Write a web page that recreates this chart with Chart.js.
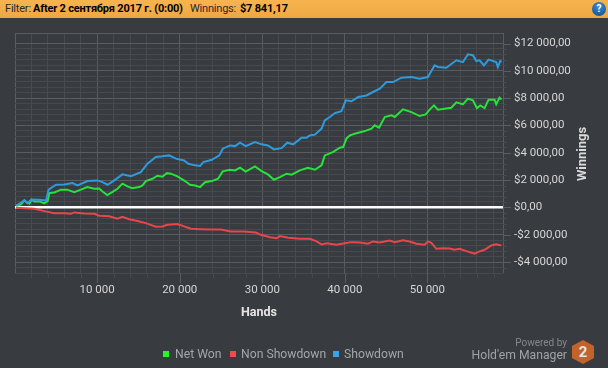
<!DOCTYPE html>
<html>
<head>
<meta charset="utf-8">
<script src="https://cdn.jsdelivr.net/npm/chart.js@4"></script>
<style>
  html, body { margin: 0; padding: 0; background: #383b3f; }
  body { width: 608px; height: 368px; position: relative; overflow: hidden; font-family: Roboto, sans-serif; }
  canvas { position: absolute; left: 0; top: 0; }
  #filterBar { position: absolute; left: 0; top: 0; width: 608px; height: 18px; background: linear-gradient(#f6b44f, #eea843); color: #2a2a2a; font-size: 11px; letter-spacing: -0.2px; line-height: 18px; white-space: nowrap; }
  #filterBar span { position: absolute; top: 0; }
  #filterBar b { color: #000; }
  #help { position: absolute; left: 592px; top: 2px; width: 14px; height: 14px; border-radius: 7px; background: radial-gradient(circle at 50% 30%, #3d8fd0, #0d4a8c); color: #fff; font: bold 10px/14px Roboto, sans-serif; text-align: center; }
  #legend { position: absolute; left: 163px; top: 346px; height: 16px; color: #a4a7aa; font-size: 12.2px; line-height: 16px; white-space: nowrap; }
  #legend span { position: absolute; top: 0; }
  #legend i { position: absolute; top: 5px; width: 6px; height: 6px; }
  #powered { position: absolute; right: 41px; top: 337px; color: #85888c; font-size: 10px; line-height: 12px; }
  #brand { position: absolute; right: 41px; top: 347px; color: #a0a3a6; font-size: 12.2px; line-height: 16px; }
  #badge { position: absolute; left: 572px; top: 340px; width: 22px; height: 24px; background: #c4622c; clip-path: polygon(50% 0, 100% 25%, 100% 75%, 50% 100%, 0 75%, 0 25%); color: #e8e4df; font: bold 15px/24px Roboto, sans-serif; text-align: center; }
</style>
</head>
<body>
<canvas id="graph" width="608" height="368"></canvas>
<div id="filterBar">
  <span style="left:5px">Filter:</span>
  <span style="left:33px"><b>After 2 сентября 2017 г. (0:00)</b></span>
  <span style="left:190px">Winnings:</span>
  <span style="left:240px"><b>$7 841,17</b></span>
</div>
<div id="help">?</div>
<div id="legend"></div>
<div id="powered">Powered by</div>
<div id="brand">Hold'em Manager</div>
<div id="badge">2</div>
<script>
// values
const netWonHands = [180, 790, 1180, 1510, 1790, 2070, 2390, 3000, 3600, 4000, 4210, 4810, 5620, 6380, 7230, 8040, 8800, 9650, 10250, 10650, 11220, 11820, 12460, 13070, 13670, 14240, 15090, 15490, 15900, 16700, 17300, 17900, 18440, 18920, 19720, 20650, 21250, 21860, 22460, 23070, 23880, 24640, 25210, 26090, 26700, 27300, 27990, 29110, 29920, 30680, 31410, 32130, 32940, 33550, 34550, 35520, 36370, 37180, 37570, 38540, 39390, 39790, 40200, 40600, 41200, 42410, 43220, 43620, 44140, 44830, 45640, 46040, 47040, 48060, 49060, 49790, 50270, 50790, 51270, 52890, 53500, 54300, 54900, 55510, 55990, 56400, 56920, 57400, 58130, 58330, 58730, 58970];
const netWonValues = [125, 220, 535, 365, 270, 565, 440, 440, 295, 460, 1050, 1100, 1300, 1300, 1120, 1300, 1490, 1370, 1390, 1170, 900, 1120, 1370, 1740, 1540, 1410, 1490, 1610, 1930, 2100, 2320, 2250, 2510, 2470, 2270, 1930, 1660, 1610, 1490, 1850, 1930, 2100, 2640, 2760, 2710, 2910, 2620, 3000, 2660, 2420, 2030, 2220, 2470, 2400, 2710, 2910, 2760, 3080, 3810, 4050, 4370, 4420, 5050, 5270, 5400, 5590, 5770, 6010, 5840, 6620, 6740, 6620, 7180, 6980, 6690, 6810, 7160, 7470, 7160, 7300, 7690, 7550, 7960, 7840, 7270, 7470, 7270, 7890, 7890, 7550, 8040, 7890];

const nonShowdownHands = [180, 2390, 3600, 4810, 6020, 6830, 7230, 8440, 9650, 10250, 11460, 12460, 13070, 13880, 14880, 15900, 17110, 17900, 18510, 19720, 20530, 21340, 22550, 23760, 24970, 26180, 27780, 29200, 29720, 30930, 31740, 32130, 33140, 34550, 35760, 36570, 37180, 37780, 38990, 39790, 40800, 41810, 42810, 43410, 44230, 45430, 46040, 47040, 47850, 48660, 49660, 50060, 50470, 51080, 51880, 52690, 53290, 53900, 54710, 55710, 56320, 56920, 57730, 58330, 58940];
const nonShowdownValues = [-20, -95, -270, -420, -420, -460, -365, -440, -460, -610, -640, -830, -680, -860, -1000, -1150, -1410, -1390, -1270, -1220, -1390, -1560, -1590, -1610, -1610, -1760, -1760, -1830, -1980, -2180, -2250, -2100, -2220, -2290, -2290, -2490, -2710, -2620, -2730, -2640, -2540, -2560, -2660, -2490, -2560, -2420, -2540, -2400, -2490, -2660, -2730, -2490, -2590, -3030, -2980, -3000, -3100, -3030, -3200, -3390, -3220, -3100, -2780, -2690, -2780];

const showdownHands = [180, 1180, 1550, 2030, 3000, 3810, 4120, 5020, 6020, 7020, 7630, 8840, 10050, 10650, 11260, 12070, 13070, 14080, 15290, 16090, 17110, 17910, 18710, 19530, 20530, 21050, 21860, 22460, 22860, 23880, 24800, 25210, 26090, 26700, 27300, 27990, 29110, 29920, 30680, 31410, 32340, 33020, 33740, 34760, 35360, 35760, 36370, 37180, 37570, 38180, 38790, 39590, 40110, 40800, 41600, 42620, 43410, 44230, 45030, 45830, 46850, 48060, 49060, 50060, 50870, 51270, 52290, 53500, 54300, 54900, 55510, 55920, 56320, 56840, 57400, 58330, 58530, 58820, 58970];
const showdownValues = [125, 510, 315, 585, 565, 510, 1300, 1660, 1680, 1780, 1610, 1930, 1980, 1850, 1660, 1980, 2420, 2290, 2590, 3200, 3690, 3740, 3810, 3570, 3440, 3200, 3080, 3030, 3320, 3490, 3810, 4300, 4540, 4490, 4740, 4490, 4780, 4620, 4540, 4250, 4340, 4740, 4620, 5110, 5110, 5270, 5330, 5770, 6370, 6620, 6910, 7050, 7840, 7770, 8080, 8200, 8450, 8700, 9180, 9180, 9500, 9550, 9430, 9550, 10400, 10280, 10230, 10770, 10640, 11210, 11140, 10720, 10770, 10400, 10820, 10640, 10280, 10720, 10640];

const seriesNames = ['Net Won', 'Non Showdown', 'Showdown'];
const lineColors = ['#26e23a', '#e8464b', '#2f9bdc'];
const boxColors = ['#2cf42c', '#f04a4a', '#36a3ea'];
const legendTextX = [12, 78, 181];
const legendBoxX = [0, 67, 170];

const handsAxis = { min: 50, max: 59150, step: 2000, major: 10000 };
const moneyAxis = { min: -4800, max: 12770, step: 400, major: 2000 };

const majorGrid = '#595c60';
const minorGrid = '#46494d';

function spaced(n) {
    return String(Math.abs(n)).replace(/\B(?=(\d{3})+$)/g, ' ');
}

function isStep(value, step) {
    return value % step === 0;
}

// chart.js bends the step when min and max are both set, so list the ticks ourselves
function stepTicks(scale, axis) {
    const list = [{ value: axis.min }];
    const first = Math.ceil(axis.min / axis.step) * axis.step;
    for (let v = first; v < axis.max; v += axis.step) {
        if (v > axis.min) list.push({ value: v });
    }
    list.push({ value: axis.max });
    scale.ticks = list;
}

// the right axis title reads upwards and the ticks have two lengths, chart.js can't do either
const extras = {
    id: 'extras',
    afterDraw(chart) {
        const ctx = chart.ctx;
        const area = chart.chartArea;
        ctx.save();
        ctx.lineWidth = 1;
        chart.scales.x.ticks.forEach(t => {
            if (!isStep(t.value, handsAxis.step)) return;
            const major = isStep(t.value, handsAxis.major);
            const px = Math.round(chart.scales.x.getPixelForValue(t.value)) + 0.5;
            ctx.strokeStyle = major ? majorGrid : minorGrid;
            ctx.beginPath();
            ctx.moveTo(px, area.bottom);
            ctx.lineTo(px, area.bottom + (major ? 10 : 5));
            ctx.stroke();
        });
        chart.scales.y.ticks.forEach(t => {
            if (!isStep(t.value, moneyAxis.step) || t.value === moneyAxis.min || t.value > 12000) return;
            const major = isStep(t.value, moneyAxis.major);
            const py = Math.round(chart.scales.y.getPixelForValue(t.value)) + 0.5;
            ctx.strokeStyle = major ? majorGrid : minorGrid;
            ctx.beginPath();
            ctx.moveTo(area.right, py);
            ctx.lineTo(area.right + (major ? 8 : 4), py);
            ctx.stroke();
        });
        ctx.translate(583, 154);
        ctx.rotate(-Math.PI / 2);
        ctx.fillStyle = '#dcdcdc';
        ctx.font = 'bold 13px Roboto';
        ctx.textAlign = 'center';
        ctx.textBaseline = 'middle';
        ctx.fillText('Winnings', 0, 0);
        ctx.restore();
    }
};

function makeSeries(i, hands, values) {
    return {
        label: seriesNames[i],
        data: hands.map((h, n) => ({ x: h, y: values[n] })),
        borderColor: lineColors[i],
        borderWidth: 2,
        pointRadius: 0,
        tension: 0
    };
}

new Chart(document.getElementById('graph'), {
    type: 'line',
    data: {
        datasets: [
            makeSeries(2, showdownHands, showdownValues),
            makeSeries(0, netWonHands, netWonValues),
            makeSeries(1, nonShowdownHands, nonShowdownValues)
        ]
    },
    options: {
        responsive: false,
        animation: false,
        layout: { padding: { top: 33, left: 15, bottom: 48 } },
        plugins: { legend: { display: false }, tooltip: { enabled: false } },
        scales: {
            x: {
                type: 'linear',
                min: handsAxis.min,
                max: handsAxis.max,
                afterBuildTicks(scale) { stepTicks(scale, handsAxis); },
                afterFit(scale) { scale.height = 47; },
                border: { display: false },
                grid: {
                    drawTicks: false,
                    lineWidth: 1,
                    color: ctx => isStep(ctx.tick.value, handsAxis.major) || !isStep(ctx.tick.value, handsAxis.step) ? majorGrid : minorGrid
                },
                ticks: {
                    autoSkip: false,
                    maxRotation: 0,
                    padding: 10,
                    color: '#d6d6d6',
                    font: { family: 'Roboto', size: 11.5 },
                    callback: v => isStep(v, handsAxis.major) ? spaced(v) : ''
                },
                title: {
                    display: true,
                    text: 'Hands',
                    color: '#e6e6e6',
                    font: { family: 'Roboto', size: 12.5, weight: 'bold' },
                    padding: { top: 8, bottom: 0 }
                }
            },
            y: {
                position: 'right',
                min: moneyAxis.min,
                max: moneyAxis.max,
                afterBuildTicks(scale) { stepTicks(scale, moneyAxis); },
                afterFit(scale) { scale.width = 105; },
                border: { display: false },
                grid: {
                    drawTicks: false,
                    lineWidth: ctx => ctx.tick.value === 0 ? 2.5 : 1,
                    color: ctx => {
                        const v = ctx.tick.value;
                        if (v === 0) return '#ffffff';
                        if (v > 12000 && v < moneyAxis.max) return 'rgba(0,0,0,0)';
                        return isStep(v, moneyAxis.major) || !isStep(v, moneyAxis.step) ? majorGrid : minorGrid;
                    }
                },
                ticks: {
                    autoSkip: false,
                    padding: 11,
                    color: '#d6d6d6',
                    font: { family: 'Roboto', size: 11.5 },
                    callback: v => isStep(v, moneyAxis.major) ? (v < 0 ? '-' : '') + '$' + spaced(v) + ',00' : ''
                }
            }
        }
    },
    plugins: [extras]
});

// legend sits off centre in the original, so it's plain html
const legend = document.getElementById('legend');
seriesNames.forEach((name, i) => {
    legend.innerHTML += `<i style="left:${legendBoxX[i]}px;background:${boxColors[i]}"></i><span style="left:${legendTextX[i]}px">${name}</span>`;
});
</script>
</body>
</html>
